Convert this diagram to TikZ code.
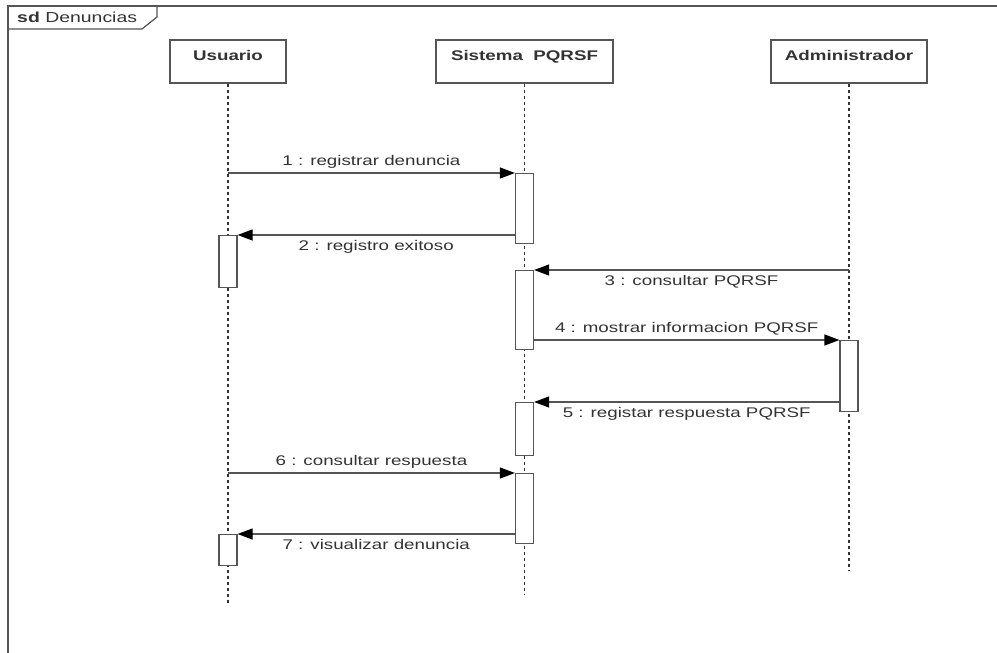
\documentclass[tikz,border=0pt]{standalone}
\usepackage{fontspec}
\setmainfont{Liberation Sans}[FakeStretch=1.34]
\usepackage{xcolor}
\usetikzlibrary{positioning}
\usetikzlibrary{arrows.meta}

\definecolor{linegray}{HTML}{555555}
\definecolor{textgray}{HTML}{333333}

\begin{document}
\begin{tikzpicture}[x=1pt,y=-1pt,>={Triangle[length=15pt,width=11pt,color=black]},
                    font=\fontsize{14}{16}\selectfont,
                    head node/.style={rectangle,draw=linegray,line width=1.2pt,inner sep=0pt,
                      text height=20pt,text depth=23pt,text=textgray,
                      font=\fontsize{14}{16}\selectfont\bfseries},
                    act box/.style={rectangle,draw=linegray,fill=white,line width=1.2pt,
                      inner sep=0pt,minimum width=18pt,anchor=north},
                    life/.style={draw=textgray,line width=1.4pt,dash pattern=on 3pt off 3pt},
                    msg/.style={draw=linegray,line width=1.2pt,->},
                    msg label/.style={text=textgray,inner sep=0pt}]
      \useasboundingbox (0,0) rectangle (997,653);
      \clip (0,0) rectangle (997,653);

      % frame
      \draw[linegray,line width=1.2pt] (8,670) -- (8,6) -- (1010,6);
      \draw[linegray,line width=1.2pt] (8,29) -- (142,29) -- (157,17) -- (157,6);
      \node[anchor=base west,text=textgray,inner sep=0pt,font=\fontsize{14.5}{17}\selectfont] (frame title) at (17,23) {\textbf{sd} Denuncias};

      % lifelines
      \node[head node,minimum width=116pt] (usuario) at (228,61.5) {Usuario};
      \node[head node,minimum width=177pt] (sistema) at (524.5,61.5) {Sistema\ \ PQRSF};
      \node[head node,minimum width=156pt] (admin) at (849,61.5) {Administrador};

      \coordinate (usuario end) at (228,603);
      \coordinate (sistema end) at (524.5,595);
      \coordinate (admin end) at (849,570);

      \path[life] (usuario) -- (usuario end);
      \path[life] (sistema) -- (sistema end);
      \path[life] (admin) -- (admin end);

      % activations
      \node[act box,minimum height=70pt] (s1) at (524.5,173) {};
      \node[act box,minimum height=52pt] (u1) at (228,235) {};
      \node[act box,minimum height=79pt] (s2) at (524.5,270) {};
      \node[act box,minimum height=71pt] (a1) at (849,340) {};
      \node[act box,minimum height=53pt] (s3) at (524.5,402) {};
      \node[act box,minimum height=70pt] (s4) at (524.5,473) {};
      \node[act box,minimum height=31pt] (u2) at (228,534) {};

      % messages
      \path[msg] (usuario |- s1.north) -- node[msg label,above=4pt] {1 : registrar denuncia} (s1.north west);
      \path[msg] (s1.west |- u1.north) -- node[msg label,below=5pt] {2 : registro exitoso} (u1.north east);
      \path[msg] (admin |- s2.north) -- node[msg label,below=5pt] {3 : consultar PQRSF} (s2.north east);
      \path[msg] (s2.east |- a1.north) -- node[msg label,above=4pt] {4 : mostrar informacion PQRSF} (a1.north west);
      \path[msg] (a1.west |- s3.north) -- node[msg label,below=5pt] {5 : registar respuesta PQRSF} (s3.north east);
      \path[msg] (usuario |- s4.north) -- node[msg label,above=4pt] {6 : consultar respuesta} (s4.north west);
      \path[msg] (s4.west |- u2.north) -- node[msg label,below=5pt] {7 : visualizar denuncia} (u2.north east);

    \end{tikzpicture}
\end{document}
